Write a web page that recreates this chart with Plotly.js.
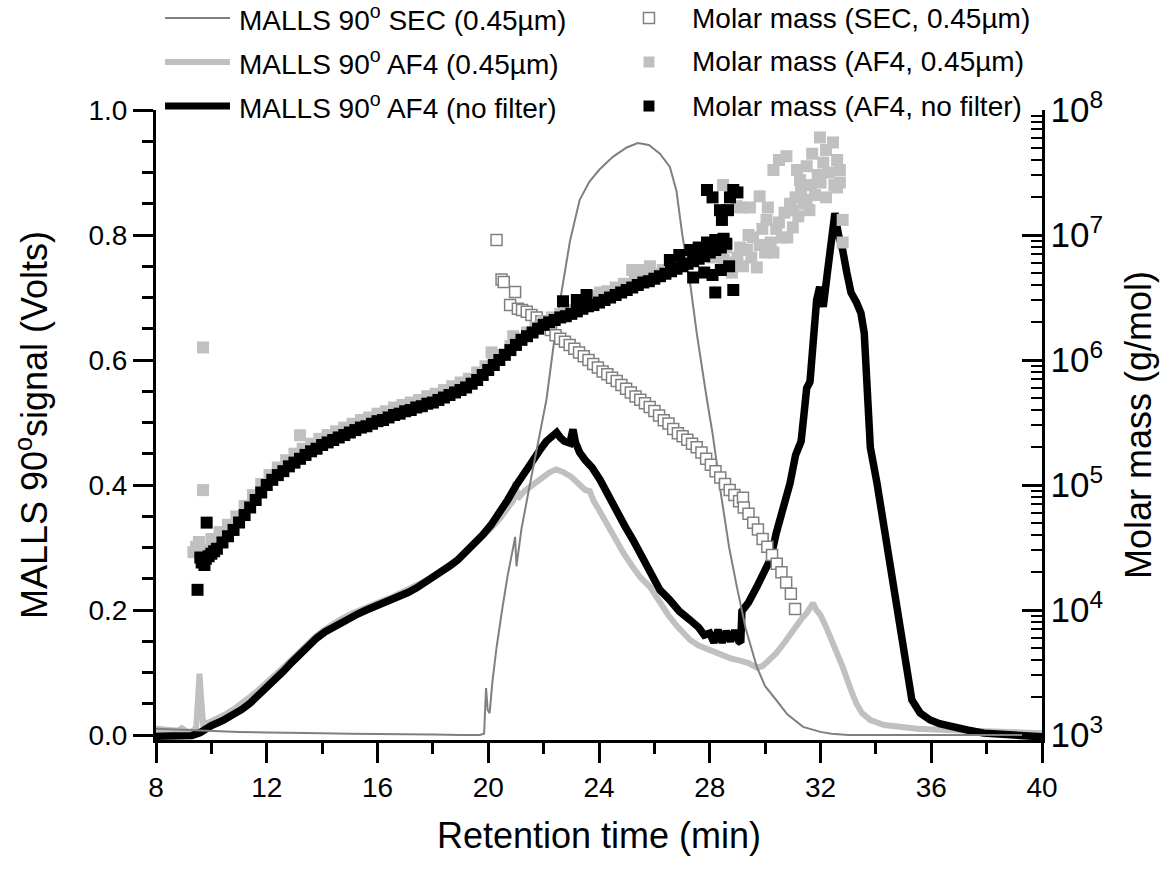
<!DOCTYPE html>
<html><head><meta charset="utf-8">
<script src="https://cdn.plot.ly/plotly-3.0.1.min.js"></script>
<style>html,body{margin:0;padding:0;background:#fff}#chart{width:1173px;height:877px}</style>
</head><body><div id="chart"></div>
<script>
// ---------- series names ----------
const seriesNames = [
  'MALLS 90<sup>o</sup> SEC (0.45µm)',
  'MALLS 90<sup>o</sup> AF4 (0.45µm)',
  'MALLS 90<sup>o</sup> AF4 (no filter)',
  'Molar mass (SEC, 0.45µm)',
  'Molar mass (AF4, 0.45µm)',
  'Molar mass (AF4, no filter)'
];

// ---------- MALLS 90° signal, SEC (0.45 µm) ----------
const secX = [8.0, 8.5, 9.0, 9.5, 10.0, 11.0, 12.0, 13.0, 14.0, 15.0, 16.0, 17.0, 18.0, 19.0, 19.7, 19.85, 19.92, 19.98, 20.05, 20.15, 20.3, 20.5, 20.7, 20.9, 20.97, 21.02, 21.2, 21.5, 21.75, 22.1, 22.35, 22.6, 22.95, 23.3, 23.65, 24.0, 24.5, 25.0, 25.4, 25.8, 26.2, 26.56, 26.8, 27.0, 27.3, 27.53, 27.9, 28.1, 28.4, 28.7, 28.98, 29.3, 29.7, 30.0, 30.4, 30.8, 31.37, 32.0, 32.4, 33.0, 34.0, 36.0, 40.0];
const secY = [0.010, 0.009, 0.008, 0.007, 0.006, 0.005, 0.004, 0.004, 0.003, 0.002, 0.002, 0.001, 0.001, 0.000, 0.000, 0.002, 0.075, 0.040, 0.035, 0.085, 0.140, 0.200, 0.255, 0.300, 0.317, 0.270, 0.330, 0.400, 0.456, 0.536, 0.620, 0.696, 0.790, 0.856, 0.885, 0.904, 0.925, 0.940, 0.947, 0.944, 0.930, 0.909, 0.870, 0.803, 0.720, 0.643, 0.536, 0.483, 0.387, 0.300, 0.237, 0.170, 0.109, 0.078, 0.056, 0.033, 0.013, 0.005, 0.002, 0.000, 0.000, 0.000, 0.000];

// ---------- MALLS 90° signal, AF4 (0.45 µm) ----------
const af4FiltX = [8.0, 8.4, 8.8, 8.93, 9.1, 9.3, 9.45, 9.52, 9.57, 9.62, 9.7, 9.9, 10.2, 10.5, 10.8, 11.1, 11.4, 11.7, 12.0, 12.3, 12.6, 12.9, 13.2, 13.5, 13.8, 14.1, 14.4, 14.7, 15.0, 15.3, 15.6, 15.9, 16.2, 16.5, 16.8, 17.1, 17.4, 17.7, 18.0, 18.3, 18.6, 18.9, 19.2, 19.5, 19.8, 20.1, 20.4, 20.7, 20.9, 20.98, 21.06, 21.3, 21.6, 21.9, 22.2, 22.45, 22.7, 23.0, 23.3, 23.5, 23.67, 23.8, 24.0, 24.3, 24.64, 24.9, 25.2, 25.5, 25.84, 26.2, 26.5, 26.8, 27.0, 27.29, 27.6, 27.9, 28.2, 28.5, 28.8, 29.1, 29.4, 29.7, 29.9, 30.1, 30.4, 30.7, 31.0, 31.3, 31.5, 31.73, 31.85, 32.0, 32.2, 32.5, 32.8, 33.1, 33.3, 33.5, 33.8, 34.3, 35.0, 35.5, 36.5, 37.5, 38.5, 39.3, 40.0];
const af4FiltY = [0.010, 0.009, 0.007, 0.011, 0.006, 0.005, 0.012, 0.060, 0.098, 0.065, 0.018, 0.020, 0.026, 0.033, 0.041, 0.050, 0.061, 0.072, 0.083, 0.095, 0.108, 0.121, 0.134, 0.147, 0.159, 0.169, 0.178, 0.186, 0.193, 0.199, 0.205, 0.210, 0.215, 0.220, 0.226, 0.232, 0.239, 0.246, 0.254, 0.263, 0.272, 0.282, 0.293, 0.305, 0.318, 0.331, 0.345, 0.362, 0.375, 0.405, 0.378, 0.390, 0.401, 0.412, 0.420, 0.425, 0.421, 0.413, 0.400, 0.392, 0.390, 0.375, 0.360, 0.336, 0.312, 0.290, 0.270, 0.252, 0.237, 0.212, 0.192, 0.175, 0.165, 0.152, 0.143, 0.138, 0.131, 0.126, 0.122, 0.119, 0.115, 0.108, 0.110, 0.118, 0.131, 0.148, 0.168, 0.185, 0.195, 0.211, 0.200, 0.192, 0.173, 0.142, 0.109, 0.072, 0.050, 0.035, 0.024, 0.016, 0.012, 0.010, 0.008, 0.006, 0.005, 0.004, 0.003];

// ---------- MALLS 90° signal, AF4 (no filter) ----------
const af4NoFiltX = [8.0, 8.5, 9.0, 9.3, 9.6, 9.8, 10.0, 10.4, 10.8, 11.1, 11.4, 11.7, 12.0, 12.3, 12.6, 12.9, 13.2, 13.5, 13.8, 14.1, 14.4, 14.7, 15.0, 15.3, 15.6, 15.9, 16.2, 16.5, 16.8, 17.1, 17.4, 17.7, 18.0, 18.3, 18.6, 18.9, 19.2, 19.5, 19.8, 20.1, 20.4, 20.7, 21.0, 21.3, 21.6, 21.9, 22.1, 22.3, 22.47, 22.6, 22.75, 22.95, 23.06, 23.15, 23.3, 23.5, 23.75, 24.04, 24.3, 24.64, 24.95, 25.23, 25.55, 25.84, 26.2, 26.56, 26.9, 27.29, 27.6, 27.8, 28.0, 28.15, 28.3, 28.45, 28.6, 28.75, 28.9, 29.05, 29.12, 29.16, 29.4, 29.7, 30.0, 30.2, 30.4, 30.6, 30.9, 31.1, 31.3, 31.42, 31.5, 31.62, 31.75, 31.86, 31.97, 32.1, 32.25, 32.4, 32.52, 32.65, 32.8, 32.95, 33.1, 33.3, 33.46, 33.58, 33.67, 33.8, 34.04, 34.3, 34.5, 34.75, 34.99, 35.15, 35.3, 35.6, 35.96, 36.3, 36.7, 37.3, 37.9, 38.5, 39.2, 40.0];
const af4NoFiltY = [-0.002, -0.002, -0.002, -0.001, 0.004, 0.010, 0.015, 0.023, 0.032, 0.041, 0.051, 0.063, 0.076, 0.089, 0.102, 0.116, 0.130, 0.143, 0.155, 0.165, 0.173, 0.181, 0.188, 0.194, 0.200, 0.205, 0.210, 0.215, 0.221, 0.228, 0.235, 0.243, 0.251, 0.260, 0.270, 0.280, 0.292, 0.305, 0.320, 0.336, 0.355, 0.376, 0.399, 0.420, 0.440, 0.458, 0.470, 0.478, 0.484, 0.476, 0.470, 0.467, 0.489, 0.468, 0.452, 0.440, 0.428, 0.408, 0.385, 0.355, 0.333, 0.312, 0.285, 0.259, 0.232, 0.216, 0.198, 0.184, 0.172, 0.160, 0.163, 0.148, 0.168, 0.148, 0.166, 0.150, 0.167, 0.150, 0.148, 0.198, 0.212, 0.237, 0.262, 0.282, 0.323, 0.352, 0.403, 0.448, 0.470, 0.520, 0.555, 0.565, 0.640, 0.696, 0.717, 0.685, 0.740, 0.800, 0.835, 0.800, 0.776, 0.740, 0.708, 0.692, 0.675, 0.643, 0.540, 0.460, 0.403, 0.330, 0.269, 0.200, 0.136, 0.090, 0.056, 0.035, 0.024, 0.018, 0.013, 0.008, 0.003, 0.001, 0.000, -0.003];

// ---------- Molar mass (SEC, 0.45 µm), g/mol ----------
const mmSecX = [20.30, 20.48, 20.56, 20.79, 20.97, 21.07, 21.22, 21.39, 21.56, 21.75, 21.92, 22.09, 22.26, 22.43, 22.60, 22.77, 22.94, 23.11, 23.28, 23.45, 23.62, 23.79, 23.96, 24.13, 24.30, 24.47, 24.64, 24.81, 24.98, 25.15, 25.32, 25.49, 25.66, 25.83, 26.00, 26.17, 26.34, 26.51, 26.68, 26.85, 27.02, 27.19, 27.36, 27.53, 27.70, 27.87, 28.04, 28.21, 28.38, 28.55, 28.72, 28.89, 29.06, 29.20, 29.23, 29.40, 29.57, 29.74, 29.91, 30.08, 30.25, 30.42, 30.59, 30.76, 30.93, 31.08];
const mmSec = [9.1e6, 4.4e6, 4.2e6, 2.75e6, 3.5e6, 2.57e6, 2.51e6, 2.43e6, 2.29e6, 2.19e6, 2.04e6, 1.91e6, 1.74e6, 1.58e6, 1.48e6, 1.40e6, 1.32e6, 1.23e6, 1.15e6, 1.07e6, 1.0e6, 9.3e5, 8.7e5, 8.1e5, 7.7e5, 7.2e5, 6.8e5, 6.3e5, 5.9e5, 5.5e5, 5.1e5, 4.8e5, 4.5e5, 4.2e5, 3.9e5, 3.6e5, 3.3e5, 3.1e5, 2.8e5, 2.6e5, 2.45e5, 2.3e5, 2.14e5, 2.0e5, 1.82e5, 1.62e5, 1.45e5, 1.29e5, 1.15e5, 1.02e5, 9.1e4, 8.3e4, 7.4e4, 7.9e4, 6.6e4, 5.9e4, 5.0e4, 4.4e4, 3.7e4, 3.2e4, 2.75e4, 2.34e4, 2.0e4, 1.66e4, 1.35e4, 1.02e4];

// ---------- Molar mass (AF4, 0.45 µm), g/mol ----------
const mmAf4FiltX = [9.35, 9.45, 9.55, 9.70, 9.70, 9.75, 10.0, 10.3, 10.6, 10.9, 11.2, 11.5, 11.8, 12.1, 12.4, 12.7, 13.0, 13.2, 13.3, 13.6, 13.9, 14.2, 14.5, 14.8, 15.1, 15.4, 15.7, 16.0, 16.3, 16.6, 16.9, 17.2, 17.5, 17.8, 18.1, 18.4, 18.7, 19.0, 19.3, 19.6, 19.9, 20.12, 20.2, 20.5, 20.8, 20.9, 21.1, 21.4, 21.7, 22.0, 22.3, 22.6, 22.9, 23.2, 23.5, 23.8, 24.04, 24.3, 24.6, 24.9, 25.2, 25.3, 25.5, 25.6, 25.84, 26.0, 26.3, 26.6, 26.9, 27.2, 27.5, 27.8, 28.1, 28.1, 28.48, 28.4, 28.5,
  28.6, 28.8, 28.85, 28.97, 29.0, 29.1, 29.1, 29.2, 29.34, 29.4, 29.45, 29.5, 29.56, 29.7, 29.8, 29.8, 29.9, 30.0, 30.05, 30.1, 30.2, 30.3, 30.3, 30.4, 30.5, 30.5, 30.6, 30.7, 30.77, 30.8, 30.9, 31.0, 31.0, 31.1, 31.15, 31.2, 31.26, 31.3, 31.4, 31.5, 31.5, 31.6, 31.65, 31.7, 31.8, 31.9, 31.98, 32.0, 32.1, 32.2, 32.2, 32.3, 32.45, 32.5, 32.6, 32.6, 32.7, 32.7, 32.8, 32.8];
const mmAf4Filt = [2.9e4, 3.2e4, 3.5e4, 9.1e4, 1.26e6, 3.0e4, 3.7e4, 4.2e4, 4.8e4, 5.6e4, 6.8e4, 8.3e4, 1.02e5, 1.20e5, 1.38e5, 1.58e5, 1.78e5, 2.5e5, 1.95e5, 2.14e5, 2.34e5, 2.51e5, 2.69e5, 2.88e5, 3.09e5, 3.31e5, 3.47e5, 3.72e5, 3.89e5, 4.17e5, 4.37e5, 4.57e5, 4.79e5, 5.13e5, 5.37e5, 5.75e5, 6.17e5, 6.61e5, 7.08e5, 7.94e5, 8.91e5, 1.15e6, 9.55e5, 1.10e6, 1.29e6, 1.55e6, 1.48e6, 1.66e6, 1.82e6, 2.04e6, 2.19e6, 2.34e6, 2.51e6, 2.69e6, 2.88e6, 3.24e6, 3.47e6, 3.55e6, 3.80e6, 4.07e6, 5.25e6, 4.37e6, 5.25e6, 4.57e6, 5.62e6, 4.90e6, 5.25e6, 5.75e6, 6.03e6, 6.31e6, 6.76e6, 7.24e6, 6.61e6, 7.94e6, 2.51e7, 7.24e6, 6.31e6,
  7.94e6, 5.0e6, 6.03e6, 1.70e7, 6.61e6, 7.94e6, 1.66e7, 5.62e6, 7.59e6, 1.0e7, 1.66e7, 6.61e6, 9.55e6, 5.50e6, 8.32e6, 2.04e7, 1.12e7, 7.24e6, 1.32e7, 1.66e7, 8.71e6, 7.24e6, 3.31e7, 1.12e7, 1.26e7, 3.98e7, 9.55e6, 1.51e7, 4.27e7, 9.55e6, 1.78e7, 1.15e7, 1.58e7, 2.0e7, 3.31e7, 1.41e7, 2.75e7, 2.24e7, 1.78e7, 1.91e7, 3.55e7, 1.58e7, 2.51e7, 4.47e7, 2.09e7, 3.02e7, 6.03e7, 2.63e7, 3.80e7, 2.0e7, 4.79e7, 3.16e7, 5.50e7, 2.51e7, 2.40e7, 3.98e7, 3.31e7, 2.63e7, 1.32e7, 8.71e6];

// ---------- Molar mass (AF4, no filter), g/mol ----------
const mmAf4NoFiltX = [9.50, 9.60, 9.65, 9.70, 9.75, 9.80, 9.83, 9.90, 10.0, 10.1, 10.2, 10.4, 10.6, 10.8, 11.0, 11.2, 11.4, 11.6, 11.8, 12.0, 12.2, 12.4, 12.6, 12.8, 13.0, 13.2, 13.4, 13.6, 13.8, 14.0, 14.2, 14.4, 14.6, 14.8, 15.0, 15.2, 15.4, 15.6, 15.8, 16.0, 16.2, 16.4, 16.6, 16.8, 17.0, 17.2, 17.4, 17.6, 17.8, 18.0, 18.2, 18.4, 18.6, 18.8, 19.0, 19.2, 19.4, 19.6, 19.8, 20.0, 20.2, 20.4, 20.6, 20.8, 21.0, 21.2, 21.4, 21.6, 21.8, 22.0, 22.2, 22.4, 22.6, 22.8, 23.0, 23.2, 23.4, 23.6, 23.8, 24.0, 24.2, 24.4, 24.6, 24.8, 25.0, 25.2, 25.4, 25.6, 25.8, 26.0, 26.2, 26.4, 26.6, 26.8, 27.0, 27.2, 27.4, 27.6, 27.8, 28.0, 28.2, 28.4, 28.6,
  22.7, 23.2, 23.55, 26.56, 26.9, 27.3, 27.6, 27.9, 28.2, 28.5, 27.4, 27.8, 28.1, 28.4, 28.7, 28.2, 28.85, 27.9, 28.1, 28.37, 28.44, 28.66, 28.73, 29.0, 28.85];
const mmAf4NoFilt = [1.45e4, 2.63e4, 2.40e4, 2.51e4, 2.29e4, 2.57e4, 5.0e4, 2.69e4, 2.82e4, 2.95e4, 3.09e4, 3.47e4, 3.89e4, 4.37e4, 5.01e4, 5.75e4, 6.61e4, 7.59e4, 8.71e4, 1.0e5, 1.10e5, 1.20e5, 1.29e5, 1.41e5, 1.51e5, 1.62e5, 1.74e5, 1.86e5, 1.95e5, 2.09e5, 2.19e5, 2.29e5, 2.40e5, 2.51e5, 2.63e5, 2.75e5, 2.88e5, 2.95e5, 3.09e5, 3.24e5, 3.31e5, 3.47e5, 3.63e5, 3.72e5, 3.89e5, 3.98e5, 4.17e5, 4.27e5, 4.47e5, 4.57e5, 4.79e5, 5.01e5, 5.25e5, 5.50e5, 5.75e5, 6.03e5, 6.46e5, 6.92e5, 7.59e5, 8.32e5, 9.12e5, 1.0e6, 1.10e6, 1.20e6, 1.32e6, 1.45e6, 1.55e6, 1.66e6, 1.78e6, 1.91e6, 2.0e6, 2.09e6, 2.19e6, 2.24e6, 2.34e6, 2.45e6, 2.57e6, 2.69e6, 2.75e6, 2.88e6, 3.02e6, 3.16e6, 3.31e6, 3.47e6, 3.63e6, 3.80e6, 3.98e6, 4.17e6, 4.27e6, 4.47e6, 4.68e6, 4.90e6, 5.13e6, 5.37e6, 5.62e6, 5.89e6, 6.17e6, 6.46e6, 6.76e6, 7.24e6, 7.59e6, 7.94e6, 8.51e6,
  2.95e6, 3.02e6, 3.31e6, 6.31e6, 6.92e6, 7.59e6, 7.94e6, 8.71e6, 9.12e6, 9.33e6, 4.57e6, 5.01e6, 4.79e6, 5.25e6, 5.62e6, 3.47e6, 3.63e6, 2.29e7, 2.0e7, 1.58e7, 1.32e7, 1.58e7, 2.0e7, 2.19e7, 2.29e7];

// ---------- axis titles ----------
const xTitle = 'Retention time (min)';
const yTitle = 'MALLS 90<sup>o</sup>signal (Volts)';
const y2Title = 'Molar mass (g/mol)';

const FONT = 'Liberation Sans, Arial, Helvetica, sans-serif';
const C_SEC = '#808080', C_FILT = '#c0c0c0', C_NOF = '#000000';

const traces = [
  {x: af4FiltX, y: af4FiltY, mode: 'lines', name: seriesNames[1], line: {color: C_FILT, width: 6}, yaxis: 'y'},
  {x: af4NoFiltX, y: af4NoFiltY, mode: 'lines', name: seriesNames[2], line: {color: C_NOF, width: 7.5}, yaxis: 'y'},
  {x: secX, y: secY, mode: 'lines', name: seriesNames[0], line: {color: C_SEC, width: 2}, yaxis: 'y'},
  {x: mmSecX, y: mmSec, mode: 'markers', name: seriesNames[3], yaxis: 'y2',
   marker: {symbol: 'square', size: 11, color: '#ffffff', line: {color: C_SEC, width: 1.5}}},
  {x: mmAf4FiltX, y: mmAf4Filt, mode: 'markers', name: seriesNames[4], yaxis: 'y2',
   marker: {symbol: 'square', size: 12, color: C_FILT, line: {width: 0}}},
  {x: mmAf4NoFiltX, y: mmAf4NoFilt, mode: 'markers', name: seriesNames[5], yaxis: 'y2',
   marker: {symbol: 'square', size: 12, color: C_NOF, line: {width: 0}}}
];

// ---------- hand-placed legend (two columns, like the original) ----------
const rowY = [1.146, 1.0762, 1.0063];
const lineStyles = [{color: C_SEC, width: 2}, {color: C_FILT, width: 6}, {color: C_NOF, width: 7}];
const boxStyles = [{fill: '#ffffff', line: C_SEC, lw: 1.5}, {fill: C_FILT, line: C_FILT, lw: 0}, {fill: C_NOF, line: C_NOF, lw: 0}];
const shapes = [], annotations = [];
for (let i = 0; i < 3; i++) {
  shapes.push({type: 'line', xref: 'paper', yref: 'paper', x0: 0.0102, x1: 0.0835, y0: rowY[i], y1: rowY[i], line: lineStyles[i]});
  shapes.push({type: 'rect', xref: 'paper', yref: 'paper', xsizemode: 'pixel', ysizemode: 'pixel',
    xanchor: 0.5564, yanchor: rowY[i], x0: -5.5, x1: 5.5, y0: -5.5, y1: 5.5,
    fillcolor: boxStyles[i].fill, line: {color: boxStyles[i].line, width: boxStyles[i].lw}});
  annotations.push({xref: 'paper', yref: 'paper', x: 0.0914, y: rowY[i], xanchor: 'left', yanchor: 'middle',
    text: seriesNames[i], showarrow: false, font: {size: 28, family: FONT, color: '#000'}});
  annotations.push({xref: 'paper', yref: 'paper', x: 0.603, y: rowY[i], xanchor: 'left', yanchor: 'middle',
    text: seriesNames[i + 3], showarrow: false, font: {size: 28, family: FONT, color: '#000'}});
}

const layout = {
  width: 1173, height: 877,
  margin: {l: 156, r: 131, t: 110, b: 137},
  paper_bgcolor: '#ffffff', plot_bgcolor: '#ffffff',
  font: {family: FONT, color: '#000', size: 28},
  showlegend: false,
  hovermode: false,
  xaxis: {
    range: [8, 40], tick0: 8, dtick: 4, ticks: 'outside', ticklen: 20, tickwidth: 3, tickcolor: '#000',
    showline: true, linewidth: 3, linecolor: '#000', showgrid: false, zeroline: false,
    tickfont: {size: 28},
    minor: {dtick: 2, ticks: 'outside', ticklen: 11, tickwidth: 3, tickcolor: '#000', showgrid: false},
    title: {text: xTitle, font: {size: 36}, standoff: 22}
  },
  yaxis: {
    range: [-0.008, 1.0], tick0: 0, dtick: 0.2, tickformat: '.1f', ticks: 'outside', ticklen: 20, tickwidth: 3, tickcolor: '#000',
    showline: true, linewidth: 3, linecolor: '#000', showgrid: false, zeroline: false,
    tickfont: {size: 28},
    minor: {dtick: 0.05, ticks: 'outside', ticklen: 11, tickwidth: 3, tickcolor: '#000', showgrid: false},
    title: {text: yTitle, font: {size: 36}, standoff: 30}
  },
  yaxis2: {
    overlaying: 'y', side: 'right', type: 'log', range: [2.96, 8], dtick: 1, exponentformat: 'power',
    ticks: 'inside', ticklen: 20, tickwidth: 3, tickcolor: '#000',
    showline: true, linewidth: 3, linecolor: '#000', showgrid: false, zeroline: false,
    tickfont: {size: 28},
    minor: {ticks: 'inside', ticklen: 11, tickwidth: 2, tickcolor: '#000', showgrid: false},
    title: {text: y2Title, font: {size: 36}, standoff: 24}
  },
  shapes: shapes,
  annotations: annotations
};

Plotly.newPlot('chart', traces, layout, {displayModeBar: false, staticPlot: true});
</script></body></html>
